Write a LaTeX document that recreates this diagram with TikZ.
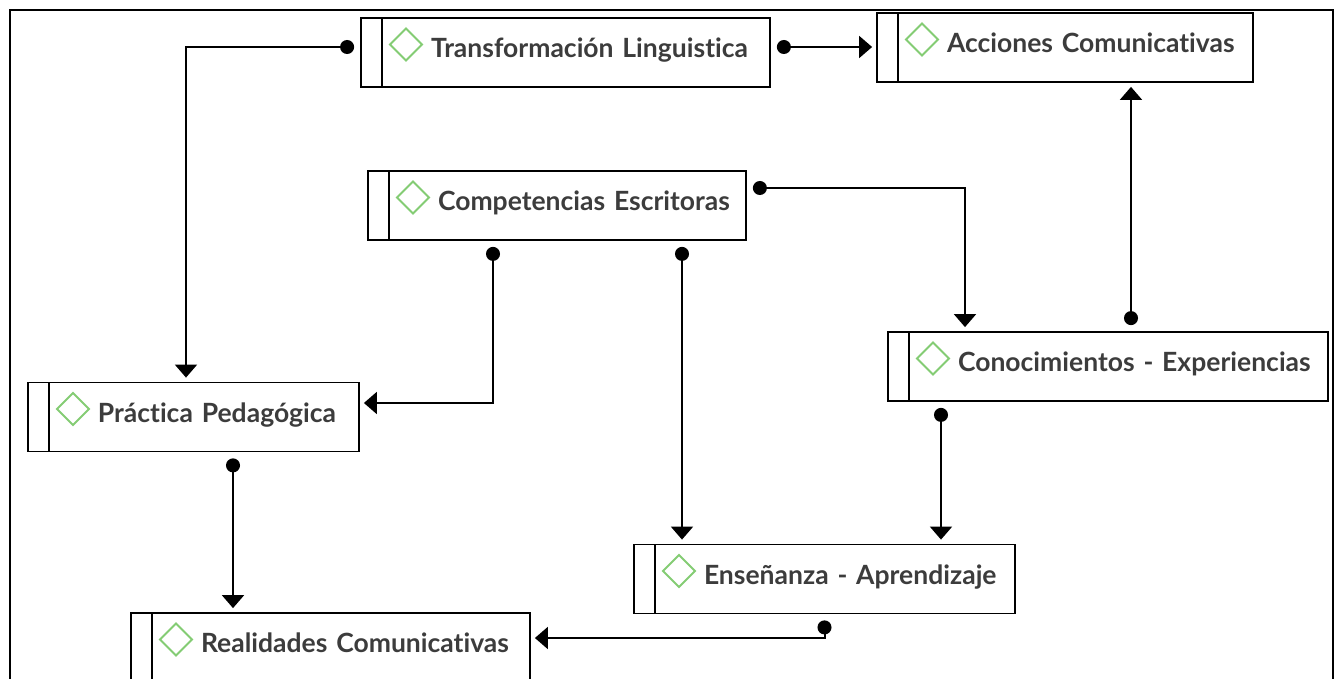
\documentclass[tikz,border=0pt]{standalone}
\usepackage{fontspec}
\setmainfont{Lato}[Ligatures=NoCommon, WordSpace=0.75]
\usepackage{tikz}
\usetikzlibrary{arrows.meta}
\definecolor{boxtext}{HTML}{3C3C3C}
\definecolor{icongreen}{HTML}{84CC74}

\begin{document}
\begin{tikzpicture}[x=1pt,y=-1pt,
    concept/.style={draw, line width=1.8pt, rectangle, inner xsep=0pt, inner ysep=0pt,
        minimum height=69pt, align=left, text height=13pt, text depth=3pt,
        font=\fontsize{26.5}{30}\selectfont\bfseries, text=boxtext,
        execute at begin node=\hspace*{70pt},
        path picture={
            \draw [line width=1.8pt] ([xshift=21pt]path picture bounding box.north west) -- ([xshift=21pt]path picture bounding box.south west);
            \draw [icongreen, line width=2pt] ([shift={(29pt,8pt)}]path picture bounding box.west) -- ++(16pt,16pt) -- ++(16pt,-16pt) -- ++(-16pt,-16pt) -- cycle;
        }},
    link/.style={line width=2pt, {Circle[length=14pt]}-{Triangle[width=22pt,length=13pt]}, shorten <=6pt, shorten >=4pt}]
    \useasboundingbox (0,0) rectangle (1342,679);
    \draw [line width=1.8pt] (10,10) rectangle (1333,700);

    \node [concept, text width=409pt] (trans) at (565.5,52.5) {Transformación Linguistica};
    \node [concept, text width=376pt] (acc) at (1065,47.5) {Acciones Comunicativas};
    \node [concept, text width=378pt] (comp) at (557,205.5) {Competencias Escritoras};
    \node [concept, text width=440pt] (cono) at (1108,366.5) {Conocimientos - Experiencias};
    \node [concept, text width=331pt] (prac) at (193.5,417) {Práctica Pedagógica};
    \node [concept, text width=381pt] (ense) at (824.5,579) {Enseñanza - Aprendizaje};
    \node [concept, text width=399pt] (real) at (330.5,647.5) {Realidades Comunicativas};

    \draw [link] ([yshift=5.5pt]trans.west) -| ([xshift=-7.5pt]prac.north);
    \draw [link] ([yshift=5.5pt]trans.east) -- ([yshift=5.5pt]trans.east -| acc.west);
    \draw [link] ([xshift=23pt]cono.north) -- ([xshift=23pt]cono.north |- acc.south);
    \draw [link] ([yshift=17.5pt]comp.east) -| ([xshift=-143pt]cono.north);
    \draw [link] ([xshift=-64pt]comp.south) |- ([yshift=14pt]prac.east);
    \draw [link] ([xshift=125pt]comp.south) -- ([xshift=125pt]comp.south |- ense.north);
    \draw [link] ([xshift=-167pt]cono.south) -- ([xshift=-167pt]cono.south |- ense.north);
    \draw [link] ([xshift=39.5pt]prac.south) -- ([xshift=39.5pt]prac.south |- real.north);
    \draw [link] (ense.south) |- ([yshift=9.5pt]real.east);
\end{tikzpicture}
\end{document}
